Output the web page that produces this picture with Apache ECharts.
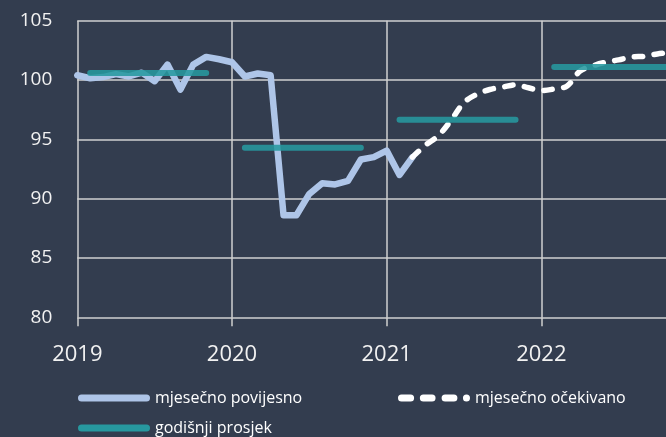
<!DOCTYPE html>
<html>
<head>
<meta charset="utf-8">
<script src="https://cdn.jsdelivr.net/npm/echarts@6/dist/echarts.min.js"></script>
<style>
html,body{margin:0;padding:0;background:#333d4f;}
#c{width:666px;height:437px;}
</style>
</head>
<body>
<div id="c"></div>
<script>
// ---- data ----
const years = [2019, 2020, 2021, 2022, 2023];
const yTicks = [80, 85, 90, 95, 100, 105];
// monthly historical values, Jan 2019 .. Mar 2021
const historical = [100.4, 100.15, 100.25, 100.5, 100.3, 100.62, 99.9, 101.3, 99.2, 101.3, 101.95, 101.75, 101.5,
  100.3, 100.55, 100.4, 88.6, 88.6, 90.4, 91.3, 91.2, 91.5, 93.3, 93.5, 94.05, 92.0, 93.5];
// monthly expected values, Mar 2021 .. Nov 2022
const expected = [93.5, 94.5, 95.3, 96.6, 98.1, 98.8, 99.2, 99.4, 99.6, 99.35, 99.1, 99.25, 99.5,
  100.75, 101.2, 101.5, 101.7, 101.95, 102.0, 102.2, 102.3];
const expectedStart = 26; // month index of first expected value
// annual averages 2019..2022
const annualAvg = [100.6, 94.3, 96.65, 101.1];
const names = ['mjesečno povijesno', 'mjesečno očekivano', 'godišnji prosjek'];

// ---- build ----
const months = [];
years.forEach((y, yi) => {
  for (let m = 1; m <= 12; m++) {
    if (yi === years.length - 1 && m > 1) break;
    months.push(y + '-' + String(m).padStart(2, '0'));
  }
});
const n = months.length;
const histData = months.map((_, i) => i < historical.length ? historical[i] : '-');
const expData = months.map((_, i) => {
  const k = i - expectedStart;
  return (k >= 0 && k < expected.length) ? expected[k] : '-';
});
const avgData = months.map((_, i) => {
  const yi = Math.floor(i / 12), m = i % 12;
  if (yi < annualAvg.length && m >= 1 && m <= 10) return annualAvg[yi];
  return '-';
});

const capsule = (a, b) => {
  const r = 3.5;
  return `M${a + r},0 L${b - r},0 A${r},${r} 0 0 1 ${b - r},7 L${a + r},7 A${r},${r} 0 0 1 ${a + r},0 Z `;
};
const solidIcon = 'path://' + capsule(0, 72);
const dashIcon = 'path://' + capsule(0, 16) + capsule(21.7, 37.3) + capsule(43.3, 59) + capsule(64.5, 71.5);

const gridColor = '#d0d0d0';
const font = "'Open Sans', 'Noto Sans', sans-serif";
const blue = '#aec5e8', teal = '#27989f', white = '#ffffff';
const yearTick = (i) => i % 12 === 0;

const chart = echarts.init(document.getElementById('c'), null, {renderer: 'canvas'});
const legendBase = {
  orient: 'horizontal', padding: 0, itemWidth: 72, itemHeight: 7, itemGap: 10,
  symbolKeepAspect: false, selectedMode: false,
  textStyle: {color: '#ffffff', fontSize: 16, fontFamily: font}
};
chart.setOption({
  backgroundColor: '#333d4f',
  animation: false,
  grid: {left: 77.3, right: -30, top: 20.7, bottom: 119.7, containLabel: false, outerBoundsMode: 'none'},
  legend: [
    Object.assign({}, legendBase, {left: 78, top: 390, data: [{name: names[0], icon: solidIcon, itemStyle: {color: blue}}]}),
    Object.assign({}, legendBase, {left: 398, top: 390, data: [{name: names[1], icon: dashIcon, itemStyle: {color: white}}]}),
    Object.assign({}, legendBase, {left: 78, top: 420, data: [{name: names[2], icon: solidIcon, itemStyle: {color: teal}}]})
  ],
  xAxis: {
    type: 'category', data: months, boundaryGap: false,
    axisLine: {show: false},
    axisTick: {show: true, length: 9, interval: yearTick, lineStyle: {color: gridColor, width: 1.5}},
    splitLine: {show: true, interval: yearTick, lineStyle: {color: gridColor, width: 1.5}},
    axisLabel: {
      show: true, interval: (i) => i % 12 === 0 && i < n - 1, margin: 26,
      formatter: (v) => v.slice(0, 4),
      color: '#f2f2f2', fontSize: 22, fontFamily: font
    }
  },
  yAxis: {
    type: 'value', min: yTicks[0], max: yTicks[yTicks.length - 1], interval: 5,
    axisLine: {show: false}, axisTick: {show: false},
    splitLine: {show: true, lineStyle: {color: gridColor, width: 1.5}},
    axisLabel: {margin: 25, color: '#f2f2f2', fontSize: 19, fontFamily: font}
  },
  series: [
    {name: names[0], type: 'line', data: histData, symbol: 'none', connectNulls: false,
      lineStyle: {color: blue, width: 6.5, cap: 'round', join: 'round'}, itemStyle: {color: blue}, z: 2},
    {name: names[1], type: 'line', data: expData, symbol: 'none', smooth: 0.35, connectNulls: false,
      lineStyle: {color: white, width: 5.5, type: [8.5, 11.5], cap: 'round', join: 'round'}, itemStyle: {color: white}, z: 3},
    {name: names[2], type: 'line', data: avgData, symbol: 'none', connectNulls: false,
      lineStyle: {color: teal, width: 6, cap: 'round', opacity: 0.88}, itemStyle: {color: teal}, z: 4}
  ]
});
</script>
</body>
</html>
